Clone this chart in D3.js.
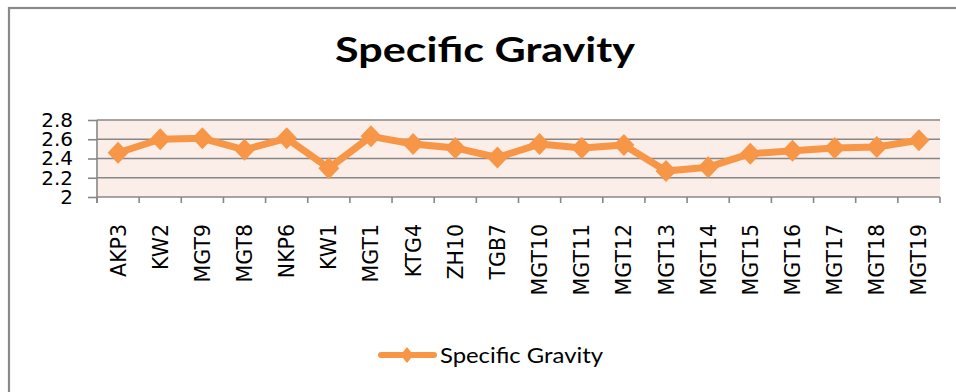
<!DOCTYPE html>
<html>
<head>
<meta charset="utf-8">
<script src="https://cdn.jsdelivr.net/npm/d3@7"></script>
<style>
  html, body { margin: 0; padding: 0; background: #fff; }
  svg { display: block; }
</style>
</head>
<body>
<svg id="chart" width="956" height="392"></svg>
<script>
// Sample names along the category axis
const categories = ["AKP3", "KW2", "MGT9", "MGT8", "NKP6", "KW1", "MGT1", "KTG4", "ZH10", "TGB7",
  "MGT10", "MGT11", "MGT12", "MGT13", "MGT14", "MGT15", "MGT16", "MGT17", "MGT18", "MGT19"];
// Specific gravity per sample
const gravity = [2.46, 2.60, 2.61, 2.49, 2.61, 2.30, 2.63, 2.55, 2.51, 2.41,
  2.55, 2.51, 2.54, 2.27, 2.31, 2.45, 2.48, 2.51, 2.52, 2.59];
// Value axis ticks
const yTicks = [2, 2.2, 2.4, 2.6, 2.8];
const yTickLabels = ["2", "2.2", "2.4", "2.6", "2.8"];
const seriesName = "Specific Gravity";
const chartTitle = "Specific Gravity";

const orange = "#F79646";
const gridGray = "#878787";

const svg = d3.select("#chart");

// Outer frame of the chart
svg.append("rect")
  .attr("x", 9).attr("y", 8)
  .attr("width", 1000).attr("height", 500)
  .attr("fill", "#fff")
  .attr("stroke", "#8a8a8a")
  .attr("stroke-width", 2.2);

const plot = { left: 97, right: 940, top: 120, bottom: 197 };

const x = d3.scaleBand().domain(categories).range([plot.left, plot.right]).padding(0);
const y = d3.scaleLinear().domain([2, 2.8]).range([plot.bottom, plot.top]);

// Title
const title = svg.append("text")
  .attr("x", 485).attr("y", 62)
  .attr("text-anchor", "middle")
  .attr("font-family", "Lato, 'Open Sans', sans-serif")
  .attr("font-weight", 700)
  .attr("font-size", 35)
  .attr("fill", "#000")
  .text(chartTitle);
title.attr("textLength", 300).attr("lengthAdjust", "spacingAndGlyphs");

// Plot background
svg.append("rect")
  .attr("x", plot.left).attr("y", plot.top)
  .attr("width", plot.right - plot.left).attr("height", plot.bottom - plot.top)
  .attr("fill", "#FBEDE7");

// Horizontal gridlines
svg.append("g").selectAll("line")
  .data(yTicks.filter(v => v > 2))
  .join("line")
  .attr("x1", plot.left).attr("x2", plot.right)
  .attr("y1", d => y(d)).attr("y2", d => y(d))
  .attr("stroke", gridGray).attr("stroke-width", 1.6);

// Value axis
const yAxis = svg.append("g")
  .attr("transform", `translate(${plot.left},0)`)
  .call(d3.axisLeft(y).tickValues(yTicks)
    .tickFormat((d, i) => yTickLabels[i])
    .tickSize(9).tickPadding(15));
yAxis.select(".domain")
  .attr("d", `M0,${plot.top}V${plot.bottom + 6}`)
  .attr("stroke", gridGray).attr("stroke-width", 1.6);
yAxis.selectAll(".tick line").attr("stroke", gridGray).attr("stroke-width", 1.6);
yAxis.selectAll(".tick text")
  .attr("font-family", "'DejaVu Sans', sans-serif")
  .attr("font-size", 20)
  .attr("fill", "#000");

// Category axis line and boundary ticks
const xg = svg.append("g");
xg.append("line")
  .attr("x1", plot.left).attr("x2", plot.right)
  .attr("y1", plot.bottom).attr("y2", plot.bottom)
  .attr("stroke", gridGray).attr("stroke-width", 1.6);
const bounds = categories.map(c => x(c)).concat([x.range()[1]]);
xg.selectAll("line.b")
  .data(bounds)
  .join("line")
  .attr("class", "b")
  .attr("x1", d => d).attr("x2", d => d)
  .attr("y1", plot.bottom).attr("y2", plot.bottom + 6)
  .attr("stroke", gridGray).attr("stroke-width", 1.6);

// Rotated category labels
xg.selectAll("text")
  .data(categories)
  .join("text")
  .attr("transform", d => `translate(${x(d) + x.bandwidth() / 2 + 7.5},224) rotate(-90)`)
  .attr("text-anchor", "end")
  .attr("font-family", "'DejaVu Sans', sans-serif")
  .attr("font-size", 20.5)
  .attr("fill", "#000")
  .text(d => d);

// Series line
const line = d3.line()
  .x((d, i) => x(categories[i]) + x.bandwidth() / 2)
  .y(d => y(d));

svg.append("path")
  .datum(gravity)
  .attr("d", line)
  .attr("fill", "none")
  .attr("stroke", orange)
  .attr("stroke-width", 7)
  .attr("stroke-linejoin", "round")
  .attr("stroke-linecap", "round");

// Diamond markers
const diamond = (cx, cy, hw, hh) => `M${cx},${cy - hh}L${cx + hw},${cy}L${cx},${cy + hh}L${cx - hw},${cy}Z`;
svg.append("g").selectAll("path")
  .data(gravity)
  .join("path")
  .attr("d", (d, i) => diamond(x(categories[i]) + x.bandwidth() / 2, y(d), 10.5, 11))
  .attr("fill", orange);

// Legend
const lg = svg.append("g");
lg.append("line")
  .attr("x1", 381).attr("x2", 434)
  .attr("y1", 355).attr("y2", 355)
  .attr("stroke", orange).attr("stroke-width", 6)
  .attr("stroke-linecap", "round");
lg.append("path")
  .attr("d", diamond(407, 355, 6.5, 8))
  .attr("fill", orange);
lg.append("text")
  .attr("x", 440).attr("y", 363)
  .attr("font-family", "Lato, 'Open Sans', sans-serif")
  .attr("font-size", 21)
  .attr("fill", "#000")
  .attr("textLength", 163)
  .attr("lengthAdjust", "spacingAndGlyphs")
  .text(seriesName);
</script>
</body>
</html>
